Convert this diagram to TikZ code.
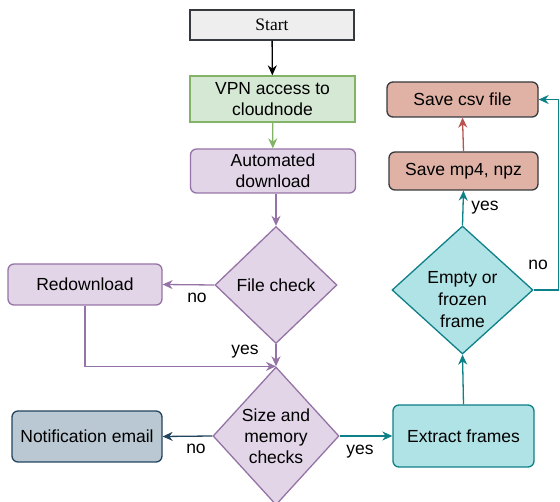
\documentclass[tikz,border=0pt]{standalone}
\usepackage{fontspec}
\setmainfont{Liberation Serif}
\setsansfont{Liberation Sans}
\usetikzlibrary{shapes.geometric,arrows.meta}

\definecolor{startfill}{HTML}{EEEEEE}
\definecolor{darkline}{HTML}{36393D}
\definecolor{vpnfill}{HTML}{D5E8D4}
\definecolor{vpnline}{HTML}{82B366}
\definecolor{purfill}{HTML}{E1D5E7}
\definecolor{purline}{HTML}{9673A6}
\definecolor{mailfill}{HTML}{BAC8D3}
\definecolor{mailline}{HTML}{23445D}
\definecolor{tealfill}{HTML}{B0E3E6}
\definecolor{tealline}{HTML}{0E8088}
\definecolor{savefill}{HTML}{DFB2A5}
\definecolor{saveline}{HTML}{B85450}

\begin{document}
\begin{tikzpicture}[x=1pt,y=-1pt,
        font=\sffamily\fontsize{17.5}{21}\selectfont,
        box/.style={draw, line width=1.3pt, align=center, inner sep=0pt},
        rbox/.style={box, rounded corners=6pt},
        dia/.style={draw, diamond, line width=1.3pt, align=center, inner sep=-10pt},
        arr/.style={line width=1.3pt, -{Stealth[length=10pt,width=9pt]}}]
        \useasboundingbox (0,0) rectangle (560,502);

        % top column
        \node[box, fill=startfill, draw=darkline, minimum width=164, minimum height=30,
            font=\rmfamily\fontsize{17.5}{21}\selectfont] (start) at (272,25) {Start};
        \node[box, fill=vpnfill, draw=vpnline, minimum width=165, minimum height=46] (vpn) at (272.5,99) {VPN access to\\cloudnode};
        \node[rbox, fill=purfill, draw=purline, minimum width=165, minimum height=44] (dl) at (273,171) {Automated\\download};

        % checks
        \node[dia, fill=purfill, draw=purline, minimum width=122, minimum height=117] (fc) at (276,285) {File check};
        \node[rbox, fill=purfill, draw=purline, minimum width=154, minimum height=41] (redl) at (85,284.5) {Redownload};
        \node[dia, fill=purfill, draw=purline, minimum width=126, minimum height=138] (sz) at (276,436) {Size and\\memory\\checks};
        \node[rbox, fill=mailfill, draw=mailline, minimum width=150, minimum height=51] (mail) at (87,436.5) {Notification email};

        % right column
        \node[rbox, fill=tealfill, draw=tealline, minimum width=141, minimum height=62] (ext) at (463.5,436) {Extract frames};
        \node[dia, fill=tealfill, draw=tealline, minimum width=141, minimum height=128, font=\sffamily\fontsize{17.5}{22}\selectfont] (ef) at (462.5,290)
            {\raisebox{-15pt}[0pt][0pt]{\begin{tabular}{@{}c@{}}Empty or\\frozen\\frame\end{tabular}}};
        \node[rbox, fill=savefill, draw=darkline, minimum width=149, minimum height=38] (mp4) at (463.5,171) {Save mp4, npz};
        \node[rbox, fill=savefill, draw=darkline, minimum width=151, minimum height=35] (csv) at (462.5,99.5) {Save csv file};

        % connectors
        \draw[arr, black] (start) -- (vpn);
        \draw[arr, vpnline] (vpn) -- (dl);
        \draw[arr, purline] (fc.north |- dl.south) -- (fc.north);
        \draw[arr, purline] (fc.west) -- (redl.east);
        \draw[arr, purline] (fc.south) -- (sz.north);
        \draw[arr, purline] (redl.south) |- (sz.north);
        \draw[arr, mailline] (sz.west) -- (mail.east);
        \draw[arr, tealline] (sz.east) -- (ext.west);
        \draw[arr, tealline] (ext.north) -- (ef.south);
        \draw[arr, tealline] (ef.north) -- (mp4.south);
        \draw[arr, saveline] (mp4.north) -- (csv.south);
        \draw[arr, tealline] (ef.east) -- ++(25,0) |- (csv.east);

        \foreach \n/\x/\y/\t in {fcno/197/298/no, fcyes/245/352/yes, szno/196/449/no,
            szyes/360/452/yes, efyes/485/208/yes, efno/538/265/no}
            {\node (\n) at (\x,\y) {\t};}
    \end{tikzpicture}
\end{document}
